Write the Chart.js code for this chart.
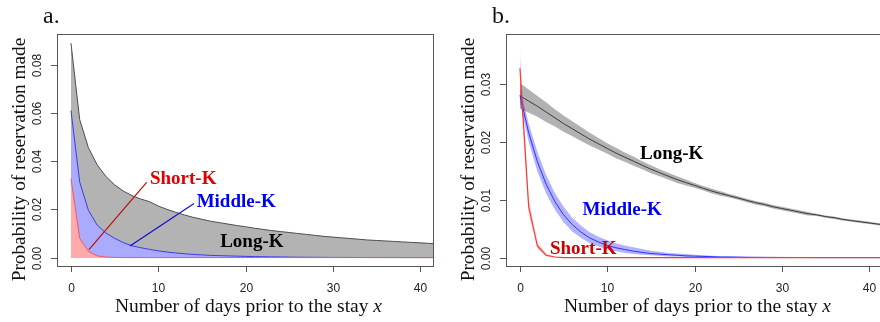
<!DOCTYPE html>
<html>
<head>
<meta charset="utf-8">
<script src="https://cdn.jsdelivr.net/npm/chart.js@4.4.1/dist/chart.umd.min.js"></script>
<style>
  html, body { margin: 0; padding: 0; background: #fff; overflow: hidden; }
  #wrap { position: relative; width: 880px; height: 322px; overflow: hidden; }
  canvas { position: absolute; top: 0; }
  #chartA { left: 0; }
  #chartB { left: 440px; }
</style>
</head>
<body>
<div id="wrap">
  <canvas id="chartA" width="440" height="322"></canvas>
  <canvas id="chartB" width="445" height="322"></canvas>
</div>
<script>
// days before the stay
const days = [0,1,2,3,4,5,6,7,8,9,10,11,12,13,14,15,16,17,18,19,20,21,22,23,24,25,26,27,28,29,30,31,32,33,34,35,36,37,38,39,40,41,42];

// panel a: empirical probability by group
const longA = [0.0890,0.0573,0.0456,0.0385,0.0337,0.0302,0.0276,0.0257,0.0243,0.0232,0.0214,0.0200,0.0188,0.0177,0.0167,0.0159,0.0151,0.0145,0.0139,0.0133,0.0128,0.0122,0.0117,0.0112,0.0108,0.0104,0.0100,0.0096,0.0092,0.0088,0.0085,0.0082,0.0079,0.0076,0.0073,0.0071,0.0069,0.0067,0.0065,0.0063,0.0061,0.0059,0.0057];
const middleA = [0.0611,0.0314,0.0196,0.0135,0.0102,0.0080,0.0062,0.0049,0.0041,0.0034,0.0028,0.0023,0.0019,0.0016,0.0013,0.0011,0.0009,0.0008,0.0007,0.0006,0.0005,0.0004,0.00035,0.0003,0.00025,0.0002,0.00015,0.00012,0.0001,0.00008,0.00006,0.00005,0.00004,0.00003,0.00002,0.00002,0.00001,0.00001,0,0,0,0,0];
const shortA = [0.0328,0.0080,0.0026,0.0007,0.0002,0.00005,0,0,0,0,0,0,0,0,0,0,0,0,0,0,0,0,0,0,0,0,0,0,0,0,0,0,0,0,0,0,0,0,0,0,0,0,0];

// panel b: fitted curves with bands
const longB = [0.0280,0.0271,0.0262,0.0252,0.0242,0.0232,0.0223,0.0214,0.0205,0.0197,0.0189,0.0181,0.0174,0.0167,0.0160,0.0153,0.0147,0.0141,0.0135,0.0130,0.0125,0.0120,0.0115,0.0111,0.0107,0.0103,0.0099,0.0095,0.0092,0.0088,0.0085,0.0082,0.0079,0.0076,0.0074,0.0071,0.0069,0.0066,0.0064,0.0062,0.0060,0.0058,0.0056];
const longBHi = [0.0302,0.0291,0.0280,0.0269,0.0257,0.0246,0.0236,0.0226,0.0216,0.0207,0.0198,0.0190,0.0182,0.0175,0.0167,0.0160,0.0153,0.0147,0.0141,0.0135,0.0129,0.0124,0.0119,0.0115,0.0110,0.0106,0.0102,0.0098,0.0095,0.0091,0.0088,0.0085,0.0082,0.0079,0.0076,0.0073,0.0071,0.0068,0.0066,0.0064,0.0062,0.0060,0.0058];
const longBLo = [0.0258,0.0251,0.0244,0.0235,0.0227,0.0218,0.0210,0.0202,0.0194,0.0187,0.0180,0.0172,0.0166,0.0159,0.0153,0.0146,0.0141,0.0135,0.0129,0.0125,0.0121,0.0116,0.0111,0.0107,0.0104,0.0100,0.0096,0.0092,0.0089,0.0085,0.0082,0.0079,0.0076,0.0073,0.0072,0.0069,0.0067,0.0064,0.0062,0.0060,0.0058,0.0056,0.0054];
const middleB = [0.0281,0.0216,0.0166,0.0127,0.0097,0.0074,0.0057,0.0044,0.0034,0.0027,0.0021,0.0017,0.0014,0.0011,0.0009,0.0007,0.0006,0.0005,0.0004,0.0003,0.00025,0.0002,0.00015,0.0001,0.0001,0.00008,0.00006,0.00005,0.00004,0.00003,0.00002,0.00002,0.00001,0.00001,0,0,0,0,0,0,0,0,0];
const middleBHi = [0.0294,0.0232,0.0183,0.0143,0.0112,0.0088,0.0069,0.0055,0.0044,0.0036,0.0030,0.0025,0.0021,0.0018,0.0015,0.0012,0.0010,0.0008,0.0007,0.0006,0.0005,0.0004,0.0003,0.00025,0.0002,0.00015,0.00012,0.0001,0.00008,0.00006,0.00005,0.00004,0.00003,0.00002,0.00002,0.00001,0.00001,0,0,0,0,0,0];
const middleBLo = [0.0268,0.0200,0.0149,0.0111,0.0083,0.0061,0.0045,0.0034,0.0025,0.0019,0.0014,0.0011,0.0008,0.0006,0.0005,0.0004,0.0003,0.0002,0.0002,0.0001,0.0001,0.0001,0.00005,0.00004,0.00003,0.00002,0.00001,0,0,0,0,0,0,0,0,0,0,0,0,0,0,0,0];
const shortB = [0.0328,0.0088,0.0020,0.0004,0.0001,0,0,0,0,0,0,0,0,0,0,0,0,0,0,0,0,0,0,0,0,0,0,0,0,0,0,0,0,0,0,0,0,0,0,0,0,0,0];
const shortBHi = [0.0358,0.0102,0.0027,0.0007,0.0002,0.00005,0,0,0,0,0,0,0,0,0,0,0,0,0,0,0,0,0,0,0,0,0,0,0,0,0,0,0,0,0,0,0,0,0,0,0,0,0];
const shortBLo = [0.0298,0.0075,0.0015,0.0002,0.00005,0,0,0,0,0,0,0,0,0,0,0,0,0,0,0,0,0,0,0,0,0,0,0,0,0,0,0,0,0,0,0,0,0,0,0,0,0,0];

const xTicks = [0, 10, 20, 30, 40];
const yTicksA = [0, 0.02, 0.04, 0.06, 0.08];
const yTicksB = [0, 0.01, 0.02, 0.03];

const SERIF = '"Liberation Serif", "Times New Roman", serif';
const SANS = '"Liberation Sans", Arial, sans-serif';

const pts = vals => days.map((d, i) => ({ x: d, y: vals[i] }));

// R-style frame: box, outward ticks, rotated y labels, titles, panel letter, text notes
const rFrame = {
  id: 'rFrame',
  afterDatasetsDraw(chart, args, o) {
    const { ctx, chartArea: a, scales: { x, y } } = chart;
    ctx.save();

    // notes: leader lines and group names
    (o.segments || []).forEach(s => {
      ctx.strokeStyle = s.color;
      ctx.lineWidth = 1.2;
      ctx.beginPath();
      ctx.moveTo(x.getPixelForValue(s.x0), y.getPixelForValue(s.y0));
      ctx.lineTo(x.getPixelForValue(s.x1), y.getPixelForValue(s.y1));
      ctx.stroke();
    });
    ctx.font = 'bold 19px ' + SERIF;
    ctx.textAlign = 'left';
    ctx.textBaseline = 'middle';
    (o.notes || []).forEach(n => {
      ctx.fillStyle = n.color;
      ctx.fillText(n.text, x.getPixelForValue(n.x), y.getPixelForValue(n.y));
    });

    // box
    ctx.strokeStyle = '#555';
    ctx.lineWidth = 1;
    ctx.strokeRect(a.left + 0.5, a.top + 0.5, a.right - a.left - 1, a.bottom - a.top);

    // x axis
    ctx.fillStyle = '#222';
    ctx.font = '12px ' + SANS;
    ctx.textAlign = 'center';
    ctx.textBaseline = 'alphabetic';
    xTicks.forEach(t => {
      const px = Math.round(x.getPixelForValue(t)) + 0.5;
      ctx.beginPath();
      ctx.moveTo(px, a.bottom);
      ctx.lineTo(px, a.bottom + 6);
      ctx.stroke();
      ctx.fillText(String(t), px, a.bottom + 26);
    });

    // y axis
    o.yTicks.forEach(t => {
      const py = Math.round(y.getPixelForValue(t)) + 0.5;
      ctx.beginPath();
      ctx.moveTo(a.left, py);
      ctx.lineTo(a.left - 6, py);
      ctx.stroke();
      ctx.save();
      ctx.translate(a.left - 16, py);
      ctx.rotate(-Math.PI / 2);
      ctx.fillText(t.toFixed(2), 0, 0);
      ctx.restore();
    });

    // axis titles
    ctx.fillStyle = '#111';
    ctx.font = '19.5px ' + SERIF;
    const main = 'Number of days prior to the stay ';
    const wMain = ctx.measureText(main).width;
    ctx.font = 'italic 19.5px ' + SERIF;
    const wX = ctx.measureText('x').width;
    const cx = (a.left + a.right) / 2 + 3;
    const x0 = cx - (wMain + wX) / 2;
    ctx.textAlign = 'left';
    ctx.font = '19.5px ' + SERIF;
    ctx.fillText(main, x0, 312);
    ctx.font = 'italic 19.5px ' + SERIF;
    ctx.fillText('x', x0 + wMain, 312);

    ctx.save();
    ctx.font = '19.3px ' + SERIF;
    ctx.textAlign = 'center';
    ctx.translate(a.left - 32, 159.5);
    ctx.rotate(-Math.PI / 2);
    ctx.fillText('Probability of reservation made', 0, 0);
    ctx.restore();

    // panel letter
    ctx.font = '24px ' + SERIF;
    ctx.textAlign = 'left';
    ctx.fillText(o.letter, a.left - 14, 22.5);

    ctx.restore();
  }
};

function baseOptions(padding, yMin, yMax, frame) {
  return {
    responsive: false,
    animation: false,
    devicePixelRatio: 1,
    layout: { padding },
    elements: { point: { radius: 0 }, line: { tension: 0 } },
    plugins: { legend: { display: false }, tooltip: { enabled: false }, rFrame: frame },
    scales: {
      x: { type: 'linear', display: false, min: -1.6, max: 41.6 },
      y: { type: 'linear', display: false, min: yMin, max: yMax }
    }
  };
}

// panel a: stacked-looking filled curves (grey under blue under red)
new Chart(document.getElementById('chartA'), {
  type: 'line',
  data: {
    datasets: [
      { data: pts(longA), order: 3, clip: 0, fill: 'origin', backgroundColor: '#b3b3b3', borderColor: '#4d4d4d', borderWidth: 1 },
      { data: pts(middleA), order: 2, clip: 0, fill: 'origin', backgroundColor: '#aaaaff', borderColor: '#3b3bef', borderWidth: 1 },
      { data: pts(shortA), order: 1, clip: 0, fill: 'origin', backgroundColor: '#ffaaaa', borderColor: '#ef5a5a', borderWidth: 1 }
    ]
  },
  options: baseOptions({ left: 57, right: 6, top: 34, bottom: 56 }, -0.0035, 0.0928, {
    letter: 'a.',
    yTicks: yTicksA,
    segments: [
      { x0: 2.06, y0: 0.0033, x1: 8.67, y1: 0.0312, color: '#b81010' },
      { x0: 6.76, y0: 0.0048, x1: 14.1, y1: 0.0224, color: '#1010c8' }
    ],
    notes: [
      { text: 'Short-K', x: 9.05, y: 0.0324, color: '#e00000' },
      { text: 'Middle-K', x: 14.4, y: 0.0231, color: '#0000f0' },
      { text: 'Long-K', x: 17.1, y: 0.0065, color: '#000' }
    ]
  }),
  plugins: [rFrame]
});

// panel b: fitted lines with shaded bands
new Chart(document.getElementById('chartB'), {
  type: 'line',
  data: {
    datasets: [
      { data: pts(longBHi), order: 9, clip: 0, fill: '+1', backgroundColor: 'rgba(0,0,0,0.3)', borderWidth: 0 },
      { data: pts(longBLo), order: 8, clip: 0, fill: false, borderWidth: 0 },
      { data: pts(longB), order: 7, clip: 0, fill: false, borderColor: '#3a3a3a', borderWidth: 1 },
      { data: pts(middleBHi), order: 6, clip: 0, fill: '+1', backgroundColor: 'rgba(0,0,255,0.3)', borderWidth: 0 },
      { data: pts(middleBLo), order: 5, clip: 0, fill: false, borderWidth: 0 },
      { data: pts(middleB), order: 4, clip: 0, fill: false, borderColor: '#3030ff', borderWidth: 1 },
      { data: pts(shortBHi), order: 3, clip: 0, fill: '+1', backgroundColor: 'rgba(255,0,0,0.18)', borderWidth: 0 },
      { data: pts(shortBLo), order: 2, clip: 0, fill: false, borderWidth: 0 },
      { data: pts(shortB), order: 1, clip: 0, fill: false, borderColor: '#ff3535', borderWidth: 1.2 }
    ]
  },
  options: baseOptions({ left: 66, right: 2, top: 34, bottom: 56 }, -0.00146, 0.03872, {
    letter: 'b.',
    yTicks: yTicksB,
    notes: [
      { text: 'Long-K', x: 13.75, y: 0.0179, color: '#000' },
      { text: 'Middle-K', x: 7.18, y: 0.0083, color: '#0000f0' },
      { text: 'Short-K', x: 3.44, y: 0.0014, color: '#d00000' }
    ]
  }),
  plugins: [rFrame]
});
</script>
</body>
</html>
